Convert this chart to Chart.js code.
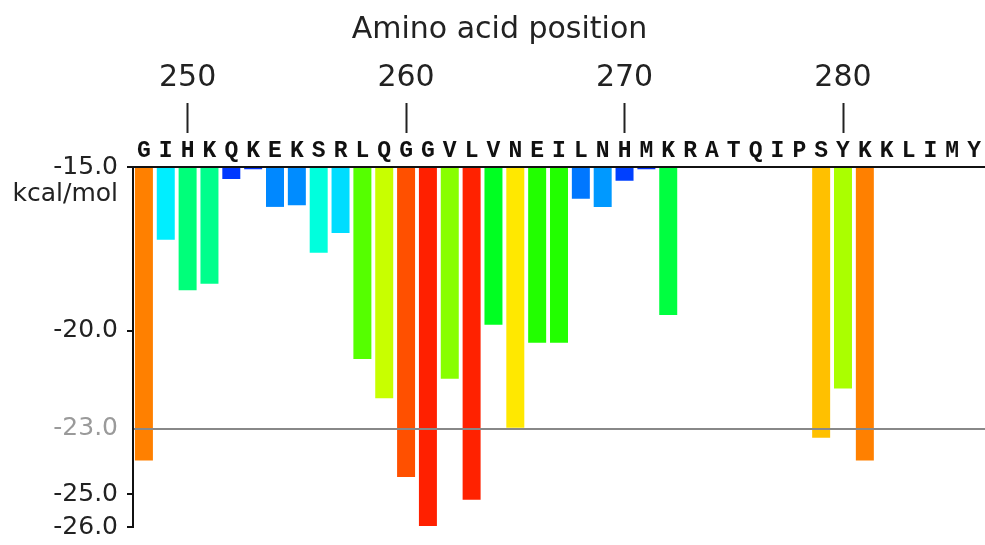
<!DOCTYPE html>
<html>
<head>
<meta charset="utf-8">
<script src="https://cdn.jsdelivr.net/npm/chart.js@4.4.1/dist/chart.umd.min.js"></script>
<style>
  html, body { margin: 0; padding: 0; background: #fff; }
  #wrap { width: 985px; height: 545px; }
</style>
</head>
<body>
<div id="wrap"><canvas id="energyChart" width="985" height="545"></canvas></div>
<script>
const residues = ['G', 'I', 'H', 'K', 'Q', 'K', 'E', 'K', 'S', 'R', 'L', 'Q', 'G', 'G', 'V', 'L', 'V', 'N', 'E', 'I',
  'L', 'N', 'H', 'M', 'K', 'R', 'A', 'T', 'Q', 'I', 'P', 'S', 'Y', 'K', 'K', 'L', 'I', 'M', 'Y'];

const positions = [248, 249, 250, 251, 252, 253, 254, 255, 256, 257, 258, 259, 260, 261, 262, 263, 264, 265, 266, 267,
  268, 269, 270, 271, 272, 273, 274, 275, 276, 277, 278, 279, 280, 281, 282, 283, 284, 285, 286];

// kcal/mol, null = no bar
const energies = [-24.0, -17.25, -18.8, -18.6, -15.4, -15.1, -16.25, -16.2, -17.65, -17.05,
  -20.9, -22.1, -24.5, -26.0, -21.5, -25.2, -19.85, -23.0, -20.4, -20.4,
  -16.0, -16.25, -15.45, -15.1, -19.55, null, null, null, null, null,
  null, -23.3, -21.8, -24.0, null, null, null, null, null];

const barColors = ['#FF8000', '#00EEFF', '#00FF7A', '#00FF8C', '#0038FF', '#0030FF', '#0088FF', '#008CFF', '#00FFDD', '#00DDFF',
  '#55FF00', '#C8FF00', '#FF5000', '#FF2000', '#88FF00', '#FF2200', '#00FF22', '#FFE800', '#22FF00', '#22FF00',
  '#0077FF', '#0099FF', '#0040FF', '#0030FF', '#00FF40', null, null, null, null, null,
  null, '#FFC000', '#AAFF00', '#FF8000', null, null, null, null, null];

const yTicks = [-15, -20, -23, -25, -26];
const THRESHOLD = -23;
const UNIT = 'kcal/mol';

const unitLabelPlugin = {
  id: 'unitLabel',
  afterDraw(chart) {
    const yScale = chart.scales.y;
    const ctx = chart.ctx;
    ctx.save();
    ctx.font = '25px "DejaVu Sans"';
    ctx.fillStyle = '#222';
    ctx.textAlign = 'right';
    ctx.textBaseline = 'middle';
    ctx.fillText(UNIT, yScale.right - 15, yScale.getPixelForValue(yTicks[0]) + 27);
    ctx.restore();
  }
};

function renderEnergyChart() {
  const canvas = document.getElementById('energyChart');
  const ctx = canvas.getContext('2d');

  new Chart(ctx, {
    type: 'bar',
    data: {
      labels: residues,
      datasets: [{
        data: energies,
        base: yTicks[0],
        backgroundColor: barColors,
        borderColor: 'rgba(255, 255, 255, 0.35)',
        borderWidth: 1,
        barPercentage: 0.915,
        categoryPercentage: 1,
        xAxisID: 'x',
        yAxisID: 'y'
      }]
    },
    options: {
      responsive: false,
      animation: false,
      layout: { padding: { left: 14, right: 0, top: 0, bottom: 18 } },
      plugins: {
        legend: { display: false },
        tooltip: { enabled: false },
        title: {
          display: true,
          text: 'Amino acid position',
          color: '#222',
          font: { family: 'DejaVu Sans', size: 30, weight: 'normal' },
          padding: { top: 11.8, bottom: 5.2 }
        }
      },
      scales: {
        x: {
          type: 'category',
          position: 'top',
          weight: 0,
          offset: true,
          grid: { display: false, drawTicks: false },
          border: { display: true, width: 2, color: '#111' },
          title: { display: true, text: '', font: { size: 1, lineHeight: 1 }, padding: { top: 1.4, bottom: 0 } },
          ticks: {
            autoSkip: false,
            maxRotation: 0,
            padding: 2,
            color: '#111',
            font: { family: 'Liberation Mono', size: 23, weight: 'bold' }
          }
        },
        x2: {
          type: 'category',
          position: 'top',
          weight: 1,
          offset: true,
          labels: positions.map(String),
          border: { display: false },
          grid: {
            offset: false,
            drawOnChartArea: false,
            tickLength: 30,
            tickWidth: 2,
            tickColor: (c) => positions[c.index] % 10 === 0 ? '#222' : 'rgba(0,0,0,0)'
          },
          ticks: {
            autoSkip: false,
            maxRotation: 0,
            padding: 7,
            color: '#222',
            font: { family: 'DejaVu Sans', size: 30 },
            callback: (val, i) => positions[i] % 10 === 0 ? String(positions[i]) : ''
          }
        },
        y: {
          type: 'linear',
          position: 'left',
          min: -26,
          max: -15,
          beginAtZero: false,
          afterFit: (scale) => {
            scale.width = 119;
            scale.paddingBottom = 0;
          },
          afterBuildTicks: (scale) => { scale.ticks = yTicks.map(v => ({ value: v })); },
          border: { display: true, width: 2, color: '#111', z: 1 },
          grid: {
            z: 1,
            drawOnChartArea: true,
            color: (c) => c.tick && c.tick.value === THRESHOLD ? '#888' : 'rgba(0,0,0,0)',
            lineWidth: 2,
            tickLength: 6,
            tickWidth: 2,
            tickColor: (c) => c.tick && c.tick.value === THRESHOLD ? 'rgba(0,0,0,0)' : '#111'
          },
          ticks: {
            padding: 9,
            color: (c) => c.tick && c.tick.value === THRESHOLD ? '#9a9a9a' : '#222',
            font: { family: 'DejaVu Sans', size: 25 },
            callback: (val) => val.toFixed(1)
          }
        }
      }
    },
    plugins: [unitLabelPlugin]
  });
}

renderEnergyChart();
</script>
</body>
</html>
